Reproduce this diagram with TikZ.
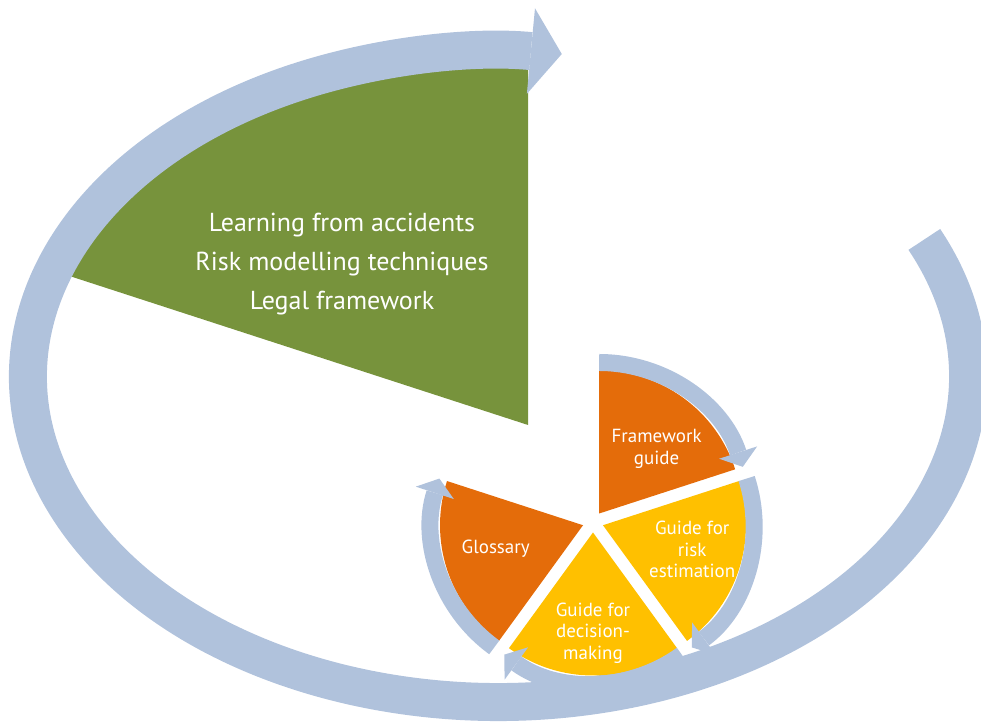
\documentclass[tikz,border=0pt]{standalone}
\usepackage{fontspec}
\setmainfont{PT Sans}
\usetikzlibrary{arrows.meta, calc}

\definecolor{cycleblue}{HTML}{B0C2DC}
\definecolor{leafgreen}{HTML}{77933C}
\definecolor{guideorange}{HTML}{E46C0A}
\definecolor{guideyellow}{HTML}{FFC000}

\begin{document}
\begin{tikzpicture}[
        x=0.02cm, y=0.02cm,
        band/.style={draw=cycleblue, line width=0.34cm, -{Triangle[length=0.3cm, width=0.8cm, line width=0pt]}},
        bigband/.style={draw=cycleblue, line width=0.76cm, -{Triangle[length=0.62cm, width=1.72cm, line width=0pt]}},
        lbl/.style={text=white, align=center, font=\fontsize{10.8}{12.2}\selectfont},
    ]
    \useasboundingbox (0,0) rectangle (981,722);
    \coordinate (bigc) at (498,345.5);
    \coordinate (pie) at (593,200);
    \coordinate (wedge) at (528,297);

    % knowledge wedge, cut off by the cycle
    \begin{scope}
        \clip (bigc) ellipse [x radius=470, y radius=325.5];
        \fill[leafgreen] (wedge) -- ++(162:800) -- ++(0,800) -| (wedge);
    \end{scope}
    \node[lbl, font=\fontsize{14.8}{22}\selectfont] (know) at (342,458)
        {Learning from accidents\\Risk modelling techniques\\Legal framework};

    % outer cycle
    \draw[bigband] (bigc) ++(24.9:470 and 325.5)
        arc[start angle=24.9, end angle=-277.8, x radius=470, y radius=325.5];

    % the four guides
    \foreach \mid/\col/\name/\la/\lr/\txt in {
        54/guideorange/fwk/49/97/Framework\\guide,
        -18/guideyellow/risk/-15.5/103/Guide for\\risk\\estimation,
        -90/guideyellow/dec/-90/111/Guide for\\decision-\\making,
        -162/guideorange/glos/-164.5/101/Glossary}{
        \coordinate (\name) at ($(pie)+(\mid:10.5)$);
        \fill[\col] (\name) -- ++(\mid+36:143) arc[start angle=\mid+36, end angle=\mid-36, radius=143] -- cycle;
        \draw[band] (\name) ++(\mid+36:151) arc[start angle=\mid+36, end angle=\mid-36, radius=151];
        \node[lbl] (\name-txt) at ($(pie)+(\la:\lr)$) {\txt};
    }
\end{tikzpicture}
\end{document}
